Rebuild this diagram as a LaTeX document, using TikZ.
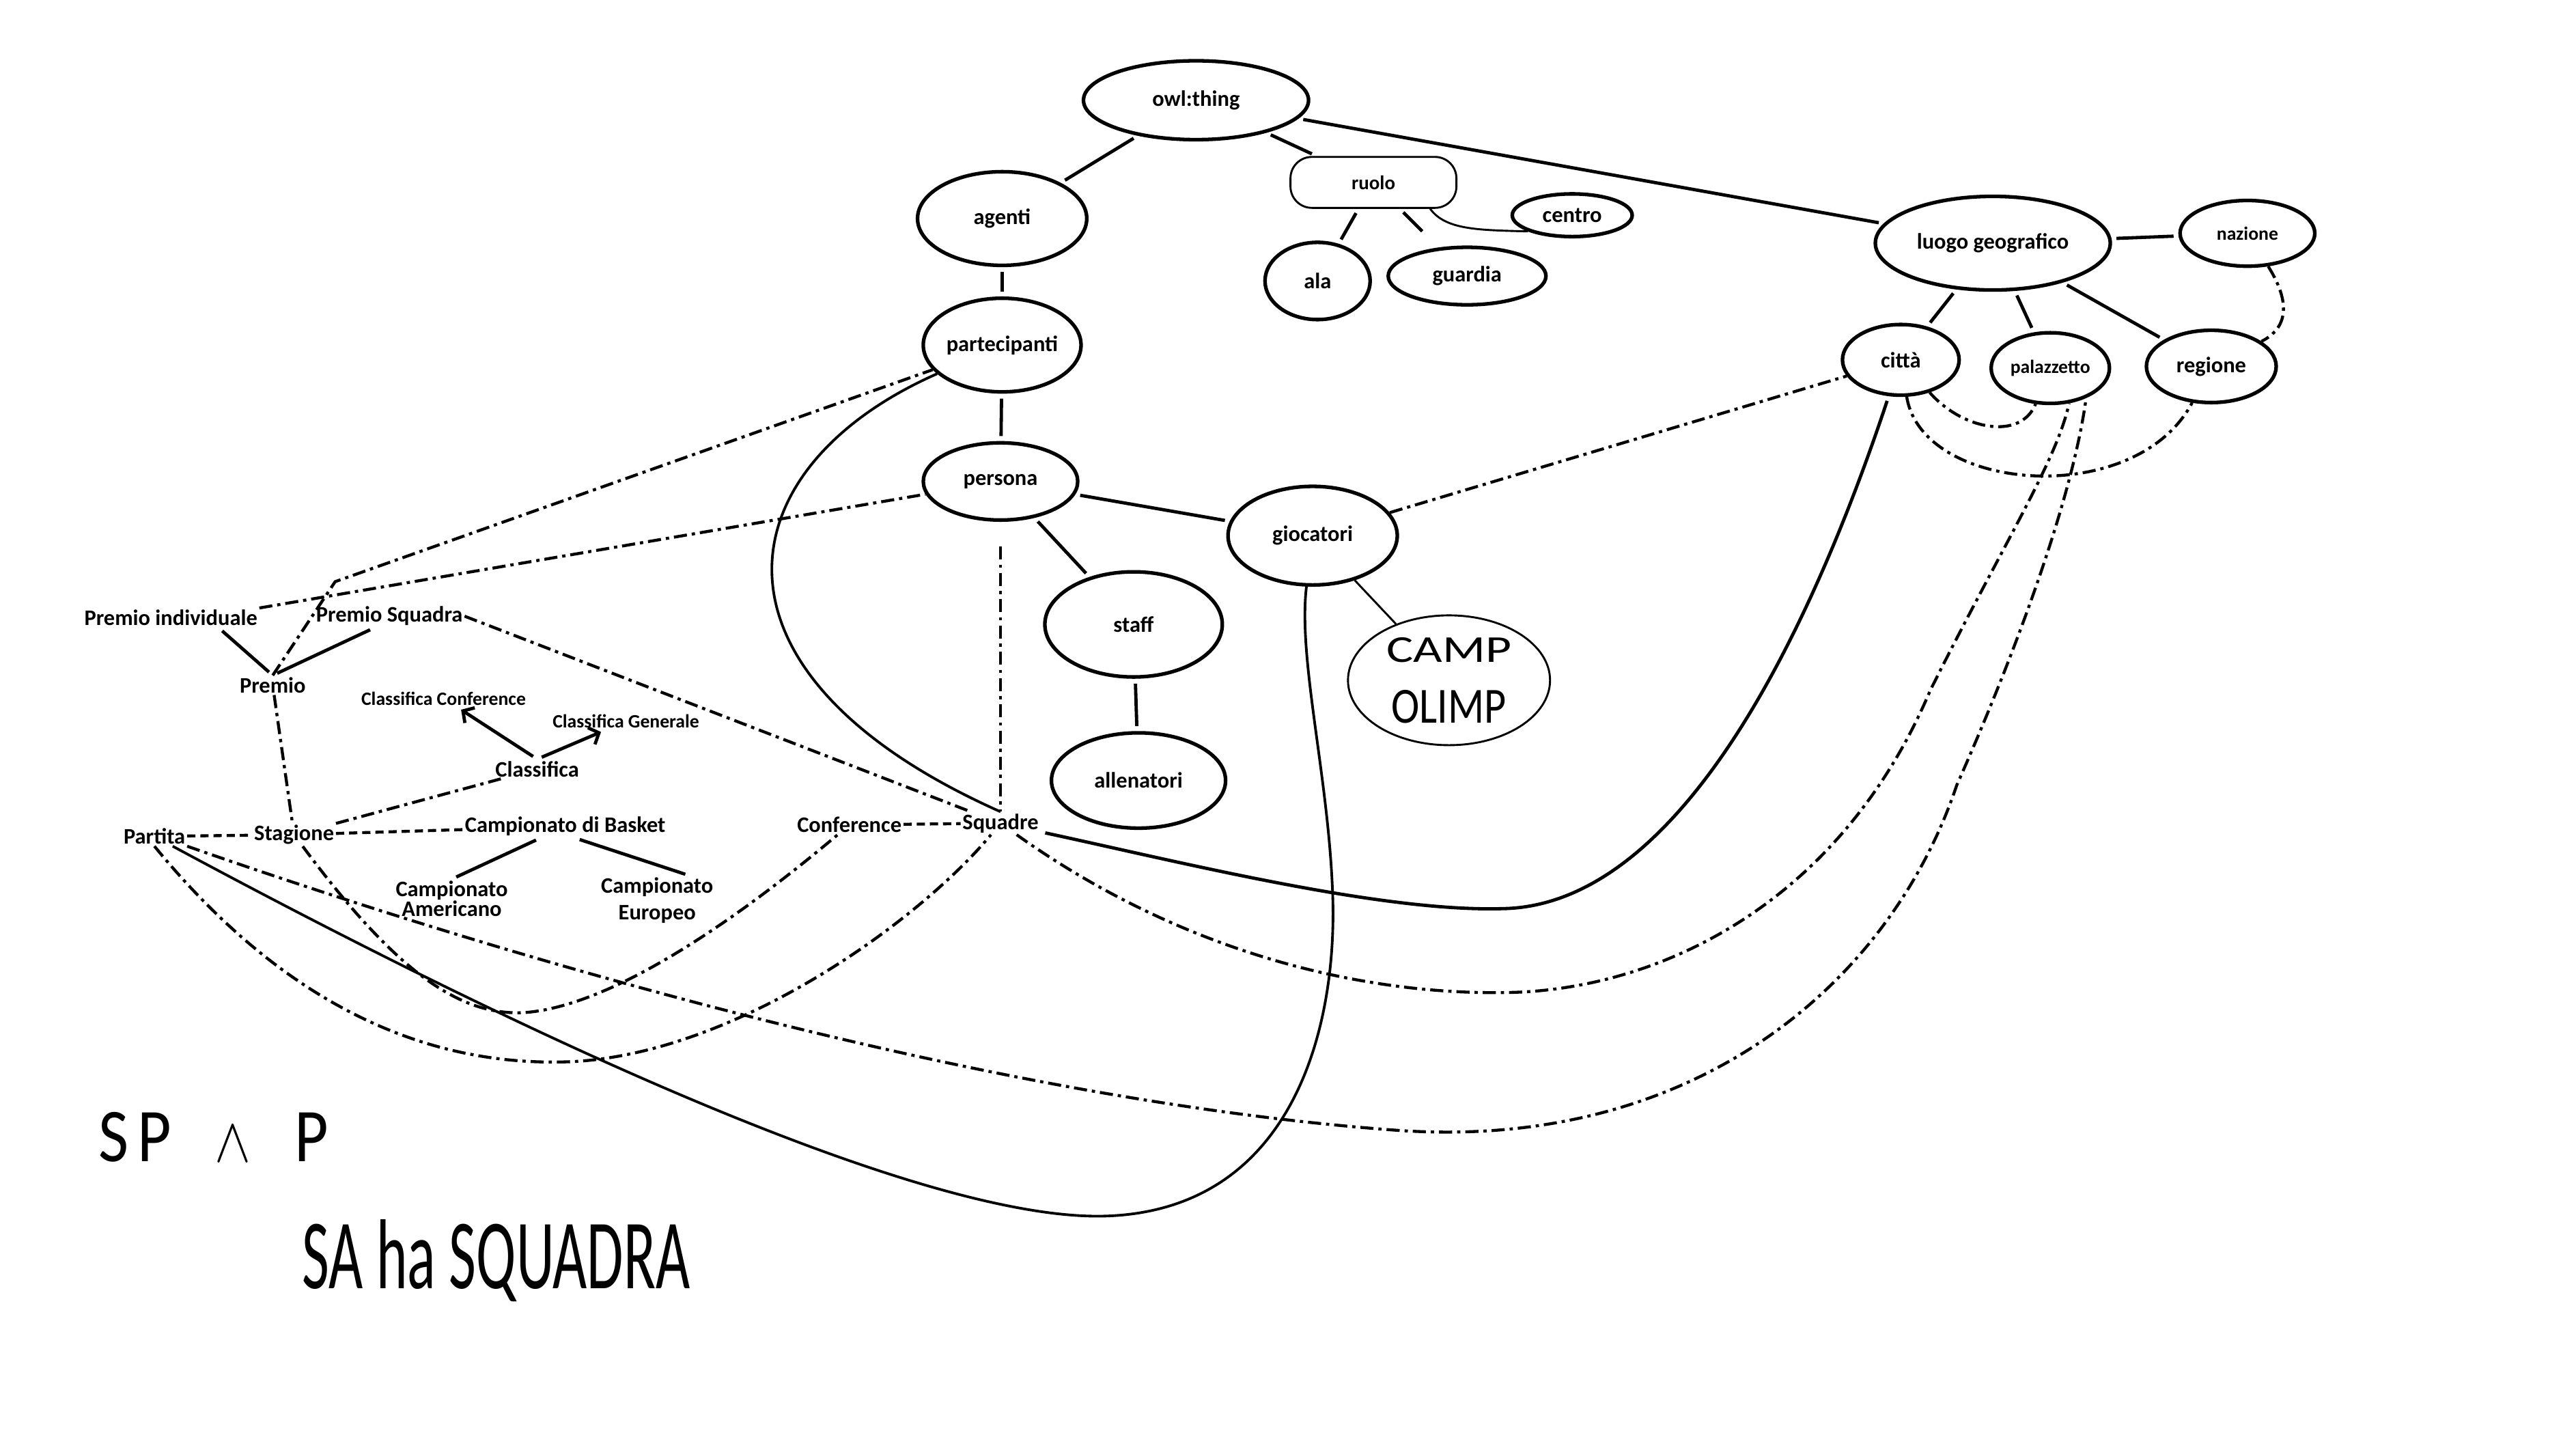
\documentclass[tikz,border=0pt]{standalone}
\usepackage{fontspec}
\setmainfont{Carlito}
\usepackage{tikz}
\usetikzlibrary{arrows.meta,shapes.geometric}

\begin{document}
\begin{tikzpicture}[x=1pt,y=-1pt,font=\fontsize{13.5}{15}\selectfont\bfseries,
      e/.style={draw,ellipse,line width=2.2pt,inner sep=0pt},
      t/.style={inner sep=1pt,align=center},
      sm/.style={font=\fontsize{11.5}{13}\selectfont\bfseries},
      s/.style={line width=2pt,shorten <=3pt,shorten >=3pt},
      th/.style={line width=1.6pt},
      dd/.style={line width=1.8pt,dash pattern=on 8pt off 3pt on 2pt off 3pt},
      dt/.style={line width=1.8pt,dash pattern=on 5pt off 3pt},
      hw/.style={font=\fontsize{30}{30}\selectfont\mdseries,inner sep=0pt}]
    \useasboundingbox (0,0) rectangle (1568,880);
    \node[e,minimum width=137pt,minimum height=48pt] (owl) at (728,61) {owl:thing};
    \node[e,minimum width=103pt,minimum height=57pt] (ag) at (610,133) {agenti};
    \node[draw,line width=1.2pt,rounded corners=13pt,minimum width=101pt,minimum height=31pt,font=\fontsize{12}{13}\selectfont\bfseries] (ru) at (836,111) {ruolo};
    \node[e,minimum width=73pt,minimum height=26pt] (ce) at (957,131) {centro};
    \node[e,minimum width=64pt,minimum height=47pt] (ala) at (802,171) {ala};
    \node[e,minimum width=96pt,minimum height=35pt] (gu) at (893,168) {guardia};
    \node[e,minimum width=143pt,minimum height=57pt] (lg) at (1213,148) {luogo geografico};
    \node[e,sm,minimum width=82pt,minimum height=40pt] (na) at (1368,142) {nazione};
    \node[e,minimum width=71pt,minimum height=43pt] (ci) at (1157,219) {città};
    \node[e,sm,minimum width=72pt,minimum height=43pt] (pa) at (1248,224) {palazzetto};
    \node[e,minimum width=79pt,minimum height=44pt] (re) at (1346,223) {regione};
    \node[e,minimum width=92pt,minimum height=57pt] (part) at (610,210) {partecipanti};
    \node[e,minimum width=94pt,minimum height=47pt] (pers) at (609,293) {persona};
    \node[e,minimum width=103pt,minimum height=60pt] (gio) at (799,326) {giocatori};
    \node[e,minimum width=108pt,minimum height=64pt] (st) at (690,380) {staff};
    \node[e,minimum width=106pt,minimum height=58pt] (all) at (693,475) {allenatori};
    \node[e,line width=1.2pt,minimum width=123pt,minimum height=79pt,hw,align=center] (camp) at (882,414) {\resizebox{76pt}{15pt}{CAMP}\\[7pt]\resizebox{70pt}{20pt}{OLIMP}};
    \node[t] (pi) at (104,376) {Premio individuale};
    \node[t] (ps) at (237,375) {Premio Squadra};
    \node[t] (pr) at (166,417) {Premio};
    \node[t,sm] (cc) at (270,425) {Classifica Conference};
    \node[t,sm] (cg) at (381,439) {Classifica Generale};
    \node[t] (cl) at (327,468) {Classifica};
    \node[t] (par) at (94,509) {Partita};
    \node[t] (sta) at (179,508) {Stagione};
    \node[t] (cb) at (344,503) {Campionato di Basket};
    \node[t] (ca) at (275,547) {Campionato\\[-3pt]Americano};
    \node[t] (ceu) at (400,548) {Campionato\\[1pt]Europeo};
    \node[t] (co) at (517,502) {Conference};
    \node[t] (sq) at (609,501) {Squadre};
    \node[hw] (n1) at (130,692) {\resizebox{140pt}{30pt}{S\hspace{4pt}P\hspace{20pt}$\wedge$\hspace{20pt}P}};
    \node[hw] (n2) at (302,767) {\resizebox{236pt}{42pt}{SA ha SQUADRA}};
    \coordinate (kn) at (204,354);
    \draw[s](owl)--(ag);\draw[s](owl)--(ru);\draw[s](owl)--(lg);
    \draw[s](ru)--(ala);\draw[s,shorten >=14pt](ru)--(gu);
    \draw[line width=1.2pt](ru.-25) .. controls (880,140) and (900,140) .. (ce.200);
    \draw[s](ag)--(part);\draw[s](part)--(pers);\draw[s](pers)--(gio);
    \draw[s](pers)--(st);\draw[s](st)--(all);
    \draw[line width=1.2pt](gio)--(camp);
    \draw[s](lg)--(na);\draw[s](lg)--(ci);\draw[s](lg)--(pa);\draw[s](lg)--(re);
    \draw[s]([xshift=29pt]pi.south)--(pr.north);\draw[s]([xshift=-9pt]ps.south)--(pr.north);
    \draw[s,-{Straight Barb[length=5pt,width=11pt]}](cl.north)--(cc);
    \draw[s,-{Straight Barb[length=5pt,width=11pt]}](cl.north)--(cg);
    \draw[s]([xshift=-15pt]cb.south)--(ca.north);\draw[s]([xshift=6pt]cb.south)--([xshift=20pt]ceu.north);
    \draw[dt](par)--(sta);\draw[dt](sta)--(cb);\draw[dt](co)--(sq);
    \draw[dd](pr)--(sta);\draw[dd](sta)--(cl);\draw[dd](ps.east)--(sq);
    \draw[dd,shorten <=15pt](pers)--(sq);\draw[dd](gio)--(ci);
    \draw[dd](pi.north east)--(pers);\draw[dd](pr.north)--(kn)--(part);
    \draw[th](part) .. controls (440,285) and (420,410) .. (sq.north);
    \draw[s](sq) .. controls (720,525) and (840,555) .. (914,553) .. controls (1010,552) and (1090,420) .. (ci);
    \draw[th](par) .. controls (300,620) and (560,745) .. (675,740) .. controls (790,735) and (815,620) .. (811,540) .. controls (808,470) and (790,400) .. (gio);
    \draw[dd](par.south) .. controls (180,620) and (270,650) .. (350,646) .. controls (450,640) and (560,560) .. (sq);
    \draw[dd](sta) .. controls (240,590) and (280,620) .. (322,616) .. controls (380,610) and (460,550) .. (co);
    \draw[dd](par.south east) .. controls (300,580) and (600,670) .. (852,688) .. controls (1030,700) and (1150,600) .. (1191,478) .. controls (1230,390) and (1262,300) .. (pa.-40);
    \draw[dd](sq) .. controls (720,580) and (830,606) .. (919,604) .. controls (1010,602) and (1120,550) .. (1175,420) .. controls (1220,330) and (1252,280) .. (pa.-62);
    \draw[dd](ci) .. controls (1195,262) and (1230,268) .. (pa);
    \draw[dd](ci) .. controls (1170,300) and (1300,310) .. (re);
    \draw[dd](na) .. controls (1395,185) and (1392,200) .. (re);
  \end{tikzpicture}
\end{document}
